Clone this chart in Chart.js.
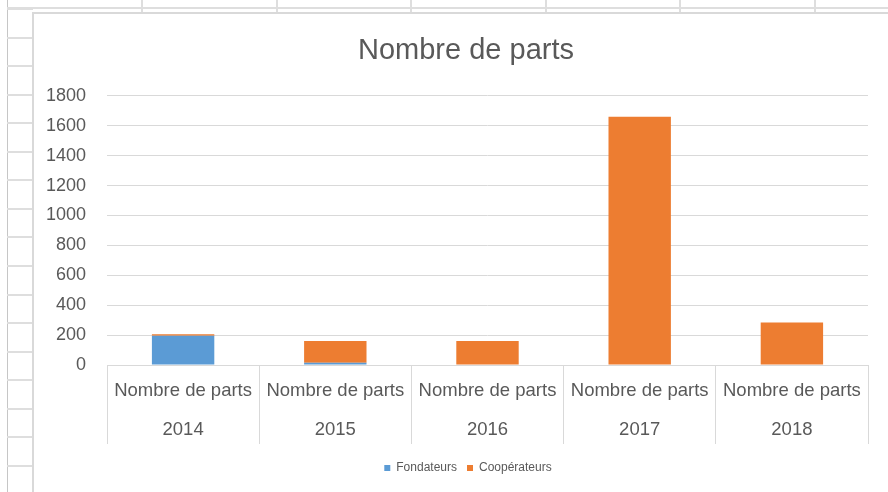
<!DOCTYPE html>
<html>
<head>
<meta charset="utf-8">
<script src="https://cdn.jsdelivr.net/npm/chart.js@4.4.1/dist/chart.umd.min.js"></script>
<style>
  html, body { margin: 0; padding: 0; background: #ffffff; }
  #wrap { position: relative; width: 888px; height: 492px; overflow: hidden; background: #ffffff; }
  .ln { position: absolute; background: #dcdcdc; }
  #frame { position: absolute; left: 32px; top: 12px; width: 900px; height: 520px; background: #ffffff;
           border-left: 2px solid #d9d9d9; border-top: 2px solid #d9d9d9; }
  #c { position: absolute; left: 0; top: 0; }
</style>
</head>
<body>
<div id="wrap">
  <div id="sheet"></div>
  <div id="frame"></div>
  <canvas id="c" width="888" height="492"></canvas>
</div>
<script>
// ---- data ----
const years = ['2014', '2015', '2016', '2017', '2018'];
const rowLabel = 'Nombre de parts';
const fondateurs = [195, 15, 0, 0, 0];
const cooperateurs = [10, 145, 160, 1660, 285];
const seriesNames = ['Fondateurs', 'Coopérateurs'];
const yTicks = [0, 200, 400, 600, 800, 1000, 1200, 1400, 1600, 1800];

// ---- spreadsheet background decoration ----
const sheet = document.getElementById('sheet');
function line(x, y, w, h, color) {
  const d = document.createElement('div');
  d.className = 'ln';
  d.style.left = x + 'px'; d.style.top = y + 'px';
  d.style.width = w + 'px'; d.style.height = h + 'px';
  if (color) d.style.background = color;
  sheet.appendChild(d);
}
line(7, 0, 1, 492, '#c6c6c6');
for (let k = 0; k < 18; k++) {
  const y = Math.round(8 + 28.55 * k);
  line(7, y, 26, 2, '#dedede');
}
line(7, 7, 881, 2, '#dedede');
[141, 276, 410, 545, 679, 814].forEach(x => line(x, 0, 2, 13, '#dedede'));

// ---- chart ----
const labels = years.map(y => [rowLabel, y]);
const textColor = '#595959';
const font = "'Liberation Sans', Arial, sans-serif";

// the chart frame continues past the right edge of the window, so the
// title and legend are centred a little to the right of the canvas centre
const shiftBlocks = {
  id: 'shiftBlocks',
  afterLayout(chart) {
    const moves = [[chart.titleBlock, 15], [chart.legend, 17]];
    moves.forEach(([b, dx]) => {
      if (b) { b.left += dx; b.right += dx; }
    });
  }
};

new Chart(document.getElementById('c'), {
  type: 'bar',
  data: {
    labels: labels,
    datasets: [
      { label: seriesNames[0], data: fondateurs, backgroundColor: '#5B9BD5', borderWidth: 0 },
      { label: seriesNames[1], data: cooperateurs, backgroundColor: '#ED7D31', borderWidth: 0 }
    ]
  },
  plugins: [shiftBlocks],
  options: {
    responsive: false,
    animation: false,
    devicePixelRatio: 1,
    layout: { padding: { left: 34, right: 20, top: 13, bottom: 8 } },
    datasets: { bar: { categoryPercentage: 1.0, barPercentage: 0.41 } },
    plugins: {
      title: {
        display: true, text: rowLabel, color: textColor,
        font: { family: font, size: 29, weight: 'normal', lineHeight: 1.2 },
        padding: { top: 21, bottom: 27 }
      },
      legend: {
        display: true, position: 'bottom',
        labels: {
          color: textColor, boxWidth: 6, boxHeight: 6, padding: 10,
          font: { family: font, size: 12 }
        }
      },
      tooltip: { enabled: false }
    },
    scales: {
      x: {
        stacked: true,
        grid: { display: true, drawOnChartArea: false, drawTicks: true, tickLength: 79, color: '#d9d9d9', offset: true },
        border: { display: true, color: '#d9d9d9', width: 1 },
        ticks: {
          color: textColor, padding: -73, maxRotation: 0, autoSkip: false,
          font: { family: font, size: 18.5, lineHeight: '39px' }
        },
        afterFit: s => { s.height = 87; }
      },
      y: {
        stacked: true, min: 0, max: 1800,
        afterBuildTicks: s => { s.ticks = yTicks.map(v => ({ value: v })); },
        grid: { color: '#d9d9d9', drawTicks: false, lineWidth: 1 },
        border: { display: false },
        ticks: {
          color: textColor, padding: 21, font: { family: font, size: 18 },
          callback: v => String(v)
        },
        afterFit: s => { s.width = 73; }
      }
    }
  }
});
</script>
</body>
</html>
